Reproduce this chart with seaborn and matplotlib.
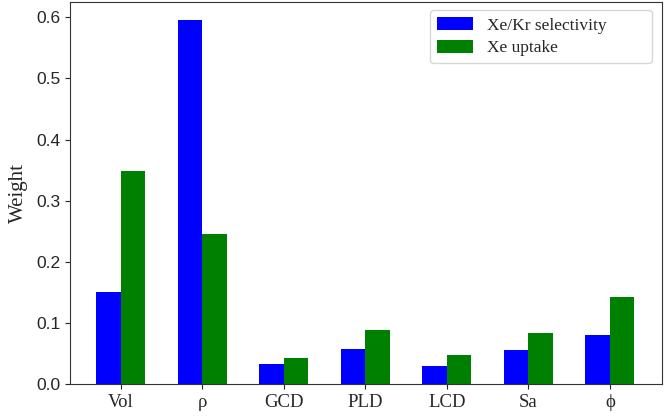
import pandas as pd
import matplotlib
matplotlib.use('Agg')
import matplotlib.pyplot as plt
import seaborn as sns

# Feature weights
features = ['Vol', 'ρ', 'GCD', 'PLD', 'LCD', 'Sa', 'ϕ']
selectivity = [0.151, 0.596, 0.032, 0.057, 0.029, 0.056, 0.080]
uptake = [0.349, 0.245, 0.043, 0.089, 0.048, 0.083, 0.142]
series_names = ['Xe/Kr selectivity', 'Xe uptake']

df = pd.DataFrame({
    'feature': features * 2,
    'weight': selectivity + uptake,
    'series': [series_names[0]] * len(features) + [series_names[1]] * len(features),
})

sns.set_style('ticks')
plt.rcParams['font.family'] = ['Liberation Serif', 'DejaVu Serif']

fig = plt.figure(figsize=(6.64, 4.16), dpi=100)
ax = fig.add_axes([0.106, 0.077, 0.891, 0.918])

sns.barplot(data=df, x='feature', y='weight', hue='series',
            palette=['blue', 'green'], saturation=1, width=0.6,
            linewidth=0, ax=ax)

ax.set_xlim(-0.62, 6.64)
ax.set_ylim(0, 0.625)
ax.set_xlabel('')
ax.set_ylabel('Weight', fontsize=15, labelpad=6)
ax.tick_params(axis='x', labelsize=13.5)
for lbl in ax.get_yticklabels():
    lbl.set_fontfamily(['Liberation Sans', 'DejaVu Sans'])
    lbl.set_fontsize(12.5)
for side in ['top', 'right', 'left', 'bottom']:
    ax.spines[side].set_visible(True)
    ax.spines[side].set_color('#333333')

# wide legend box, text left-aligned with empty space on the right
ax.legend(title=None, loc='upper left', bbox_to_anchor=(0.608, 0.5, 0.375, 0.479),
          mode='expand', fontsize=12.5, handlelength=2.1,
          handleheight=0.8, handletextpad=0.8, labelspacing=0.35,
          borderpad=0.4, fancybox=True, borderaxespad=0)

plt.savefig('out.png', dpi=100)
